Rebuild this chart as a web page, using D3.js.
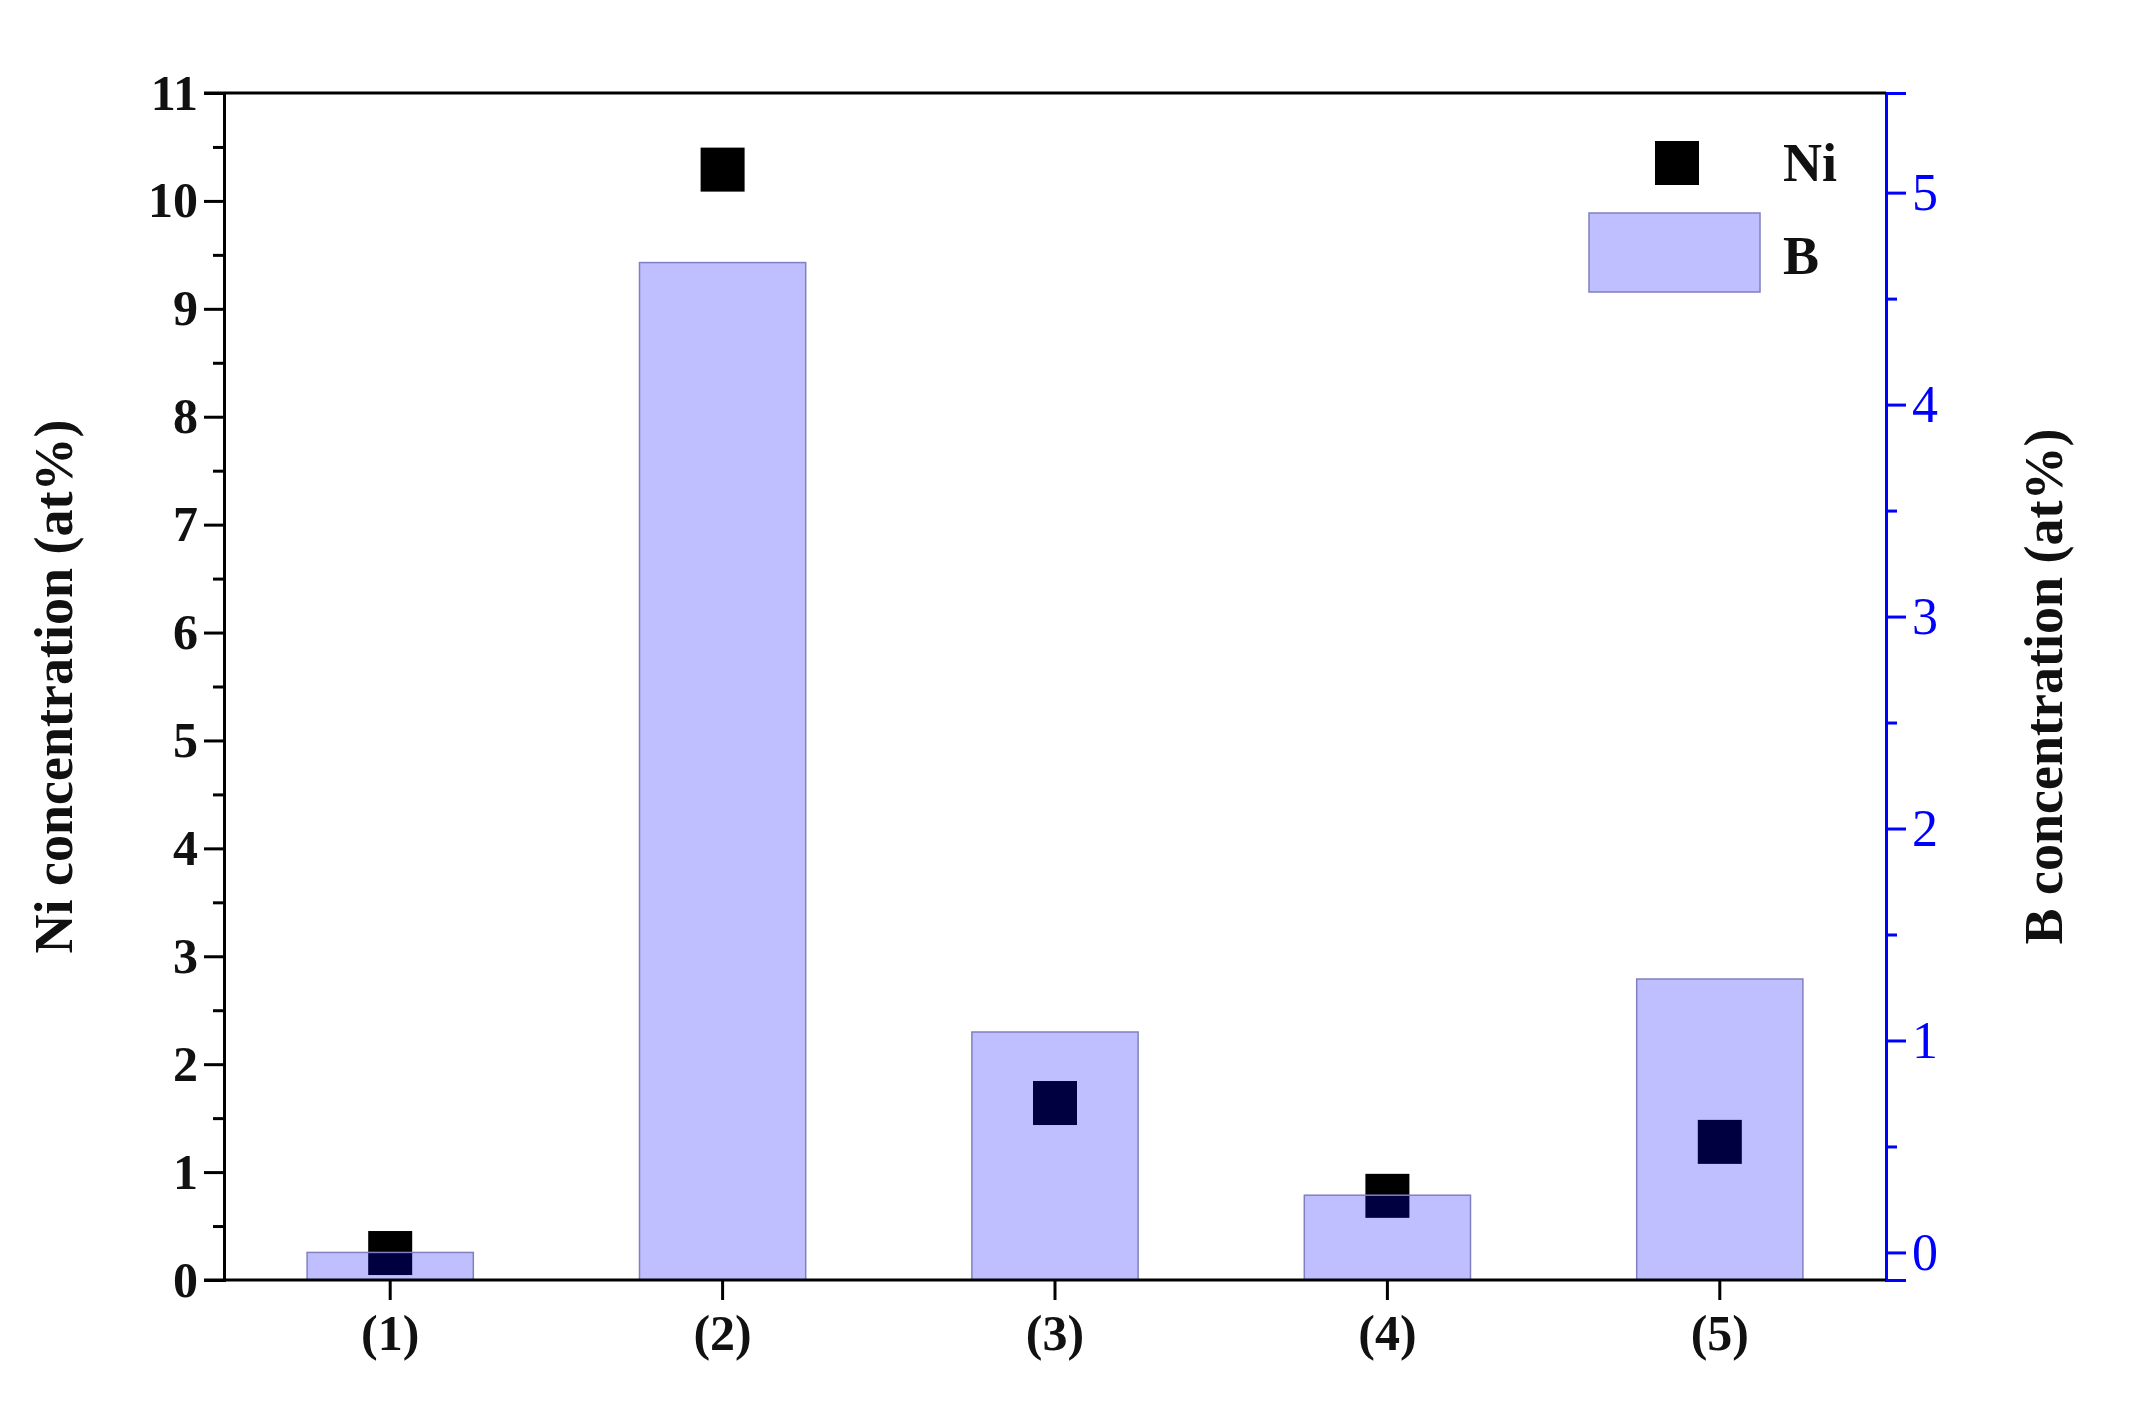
<!DOCTYPE html>
<html><head><meta charset="utf-8">
<script src="https://cdn.jsdelivr.net/npm/d3@7"></script>
<style>body{margin:0;background:#fff}</style></head>
<body><svg id="c" width="2133" height="1416"></svg>
<script>
const categories=["(1)","(2)","(3)","(4)","(5)"];
const niValues=[0.25,10.29,1.64,0.78,1.28];
const bValues=[0.0,4.67,1.04,0.27,1.29];
const niTicks=d3.range(0,12,1);
const bTicks=[0,1,2,3,4,5];

const svg=d3.select("#c");
const L=224,R=1886,T=93,B=1280;
const font="'Liberation Serif','DejaVu Serif',serif";
const x=d3.scaleBand().domain(categories).range([L,R]).paddingInner(0.5).paddingOuter(0.25);
const yN=d3.scaleLinear().domain([0,11]).range([B,T]);
const yB=d3.scaleLinear().domain([-0.13,5.47]).range([B,T]);

svg.append("g").selectAll("rect").data(categories).join("rect")
 .attr("x",d=>x(d)).attr("width",x.bandwidth())
 .attr("y",(d,i)=>yB(bValues[i])).attr("height",(d,i)=>B-yB(bValues[i]))
 .attr("fill","#0000ff").attr("fill-opacity",0.25).attr("stroke","#8080c0").attr("stroke-width",1.5);
const s=44;
svg.insert("g",":first-child").selectAll("rect").data(categories).join("rect")
 .attr("x",d=>x(d)+x.bandwidth()/2-s/2).attr("y",(d,i)=>yN(niValues[i])-s/2)
 .attr("width",s).attr("height",s).attr("fill","#000");

const gl=svg.append("g").attr("transform",`translate(${L},0)`)
 .call(d3.axisLeft(yN).tickValues(niTicks).tickSize(20).tickPadding(6));
gl.selectAll("text").attr("font-family",font).attr("font-size",50).attr("font-weight","bold").attr("fill","#111");
svg.append("g").attr("transform",`translate(${L},0)`)
 .call(d3.axisLeft(yN).tickValues(d3.range(0.5,11,1)).tickSize(11).tickFormat(""))
 .select(".domain").remove();
gl.selectAll("line,path").attr("stroke","#000").attr("stroke-width",3);
svg.selectAll("g line").attr("stroke-width",3);

const gr=svg.append("g").attr("transform",`translate(${R},0)`)
 .call(d3.axisRight(yB).tickValues(bTicks).tickFormat(d3.format("d")).tickSize(20).tickPadding(6));
svg.append("g").attr("transform",`translate(${R},0)`)
 .call(d3.axisRight(yB).tickValues(d3.range(0.5,5.5,1)).tickSize(11).tickFormat(""))
 .attr("class","rminor").select(".domain").remove();
gr.selectAll("line,path").attr("stroke","#0000ff").attr("stroke-width",3);
svg.selectAll(".rminor line").attr("stroke","#0000ff").attr("stroke-width",3);
gr.selectAll("text").attr("font-family",font).attr("font-size",52).attr("fill","#0000ff");

const gb=svg.append("g").attr("transform",`translate(0,${B})`)
 .call(d3.axisBottom(x).tickSize(20).tickPadding(14));
gb.select(".domain").attr("d",`M${L},0H${R}`);
gb.selectAll("line,path").attr("stroke","#000").attr("stroke-width",3);
gb.selectAll("text").attr("font-family",font).attr("font-size",50).attr("font-weight","bold").attr("fill","#111");
svg.append("line").attr("x1",L-20).attr("x2",R).attr("y1",T).attr("y2",T).attr("stroke","#000").attr("stroke-width",3);
svg.append("line").attr("x1",L-20).attr("x2",L).attr("y1",B).attr("y2",B).attr("stroke","#000").attr("stroke-width",3);

svg.append("text").attr("transform",`translate(72,${(T+B)/2}) rotate(-90)`).attr("text-anchor","middle")
 .attr("font-family",font).attr("font-size",54).attr("font-weight","bold").attr("fill","#111").text("Ni concentration (at%)");
svg.append("text").attr("transform",`translate(2062,${(T+B)/2}) rotate(-90)`).attr("text-anchor","middle")
 .attr("font-family",font).attr("font-size",54).attr("font-weight","bold").attr("fill","#111").text("B concentration (at%)");

svg.append("rect").attr("x",1655).attr("y",141).attr("width",44).attr("height",44).attr("fill","#000");
svg.append("rect").attr("x",1589).attr("y",213).attr("width",171).attr("height",79)
 .attr("fill","#0000ff").attr("fill-opacity",0.25).attr("stroke","#8080c0").attr("stroke-width",1.5);
svg.append("text").attr("x",1783).attr("y",181).attr("font-family",font).attr("font-size",54).attr("font-weight","bold").attr("fill","#111").text("Ni");
svg.append("text").attr("x",1783).attr("y",274).attr("font-family",font).attr("font-size",54).attr("font-weight","bold").attr("fill","#111").text("B");
</script></body></html>
